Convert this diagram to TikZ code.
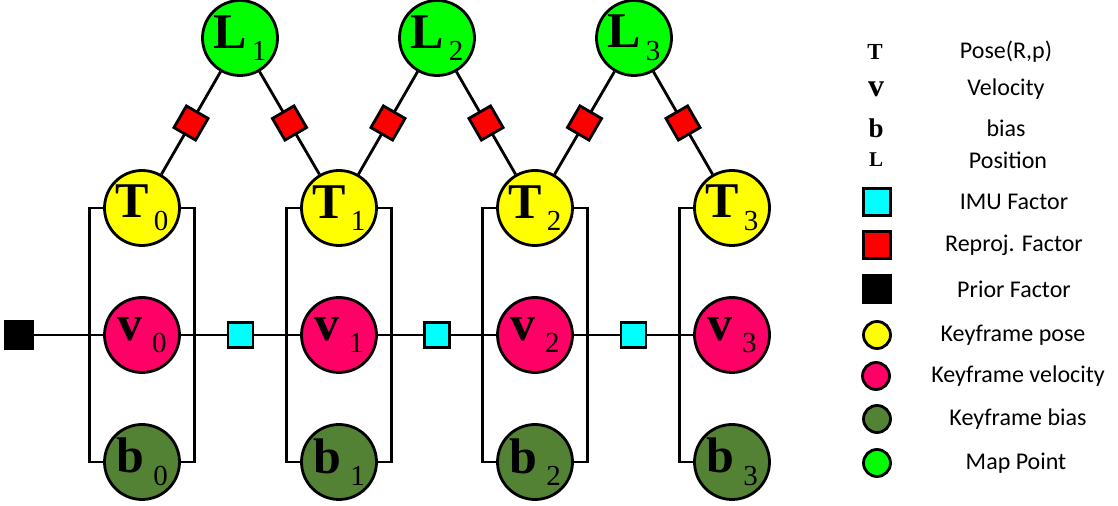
\documentclass[tikz,border=0pt]{standalone}
\usepackage{fontspec}
\setmainfont{Liberation Serif}
\newfontfamily\legendfont{Carlito}
\definecolor{posecol}{HTML}{FFFF00}
\definecolor{velcol}{HTML}{FF0066}
\definecolor{biascol}{HTML}{548235}
\definecolor{mapcol}{HTML}{00FF00}
\definecolor{imucol}{HTML}{00FFFF}
\definecolor{reprojcol}{HTML}{FF0000}
\newcommand{\varlbl}[2]{\textbf{#1}\raisebox{-0.25em}{\fontsize{14.5}{14.5}\selectfont\,#2}}
\begin{document}
\begin{tikzpicture}[x=0.5pt, y=-0.5pt]
    \tikzset{var/.style={circle, draw, line width=1.4pt, minimum size=37.5pt, inner sep=0pt, font=\fontsize{25}{25}\selectfont},
        pose/.style={var, fill=posecol}, vel/.style={var, fill=velcol}, bias/.style={var, fill=biascol}, mappt/.style={var, fill=mapcol},
        fac/.style={rectangle, draw, line width=1.4pt, minimum size=12.5pt, inner sep=0pt},
        imu/.style={fac, fill=imucol}, reproj/.style={fac, fill=reprojcol, sloped}, prior/.style={fac, fill=black, minimum size=14pt},
        link/.style={line width=1.4pt},
        legsym/.style={inner sep=0pt, font=\bfseries},
        legtext/.style={inner sep=0pt, font=\legendfont\fontsize{12}{12}\selectfont},
        legcirc/.style={circle, draw, line width=1.4pt, minimum size=13.5pt, inner sep=0pt},
        legbox/.style={rectangle, draw, line width=1.4pt, minimum size=13.5pt, inner sep=0pt}}
    \useasboundingbox (0,0) rectangle (1118,506);
    % keyframe states
    \node[pose] (T0) at (142,208) {\varlbl{T}{0}};
    \node[pose] (T1) at (339,208) {\varlbl{T}{1}};
    \node[pose] (T2) at (535,208) {\varlbl{T}{2}};
    \node[pose] (T3) at (732,208) {\varlbl{T}{3}};
    \node[vel] (v0) at (142,335) {\varlbl{v}{\,0}};
    \node[vel] (v1) at (339,335) {\varlbl{v}{\,1}};
    \node[vel] (v2) at (535,335) {\varlbl{v}{\,2}};
    \node[vel] (v3) at (732,335) {\varlbl{v}{\,3}};
    \node[bias] (b0) at (142,462) {\varlbl{b}{\,0}};
    \node[bias] (b1) at (339,462) {\varlbl{b}{\,1}};
    \node[bias] (b2) at (535,462) {\varlbl{b}{\,2}};
    \node[bias] (b3) at (732,462) {\varlbl{b}{\,3}};
    % map points
    \node[mappt] (L1) at (240,38) {\varlbl{L}{1}};
    \node[mappt] (L2) at (437,38) {\varlbl{L}{2}};
    \node[mappt] (L3) at (634,38) {\varlbl{L}{3}};
    % brackets
    \draw[link] (T0.west) -- ++(-13.5,0) |- (b0.west);
    \draw[link] (T0.east) -- ++(13.5,0) |- (b0.east);
    \draw[link] (T1.west) -- ++(-13.5,0) |- (b1.west);
    \draw[link] (T1.east) -- ++(13.5,0) |- (b1.east);
    \draw[link] (T2.west) -- ++(-13.5,0) |- (b2.west);
    \draw[link] (T2.east) -- ++(13.5,0) |- (b2.east);
    \draw[link] (T3.west) -- ++(-13.5,0) |- (b3.west);
    % prior and imu factors
    \node[prior] (prior) at (19,335) {};
    \draw[link] (prior) -- (v0);
    \draw[link] (v0) -- node[imu] (imu01) {} (v1);
    \draw[link] (v1) -- node[imu] (imu12) {} (v2);
    \draw[link] (v2) -- node[imu] (imu23) {} (v3);
    % reprojection factors
    \draw[link] (L1) -- node[reproj] (r10) {} (T0);
    \draw[link] (L1) -- node[reproj] (r11) {} (T1);
    \draw[link] (L2) -- node[reproj] (r21) {} (T1);
    \draw[link] (L2) -- node[reproj] (r22) {} (T2);
    \draw[link] (L3) -- node[reproj] (r32) {} (T2);
    \draw[link] (L3) -- node[reproj] (r33) {} (T3);
    % legend
    \node[legsym, font=\fontsize{11.5}{11.5}\selectfont\bfseries] (kT) at (875,52) {T};
    \node[legsym, font=\fontsize{16}{16}\selectfont\bfseries] (kv) at (876,89) {v};
    \node[legsym, font=\fontsize{13.5}{13.5}\selectfont\bfseries] (kb) at (876,128) {b};
    \node[legsym, font=\fontsize{10.5}{10.5}\selectfont\bfseries] (kL) at (876,160) {L};
    \node[legbox, fill=imucol] (kimu) at (877,202) {};
    \node[legbox, fill=reprojcol] (kreproj) at (877,245) {};
    \node[legbox, fill=black] (kprior) at (877,289) {};
    \node[legcirc, fill=posecol] (kpose) at (877,335) {};
    \node[legcirc, fill=velcol] (kvel) at (876,376) {};
    \node[legcirc, fill=biascol] (kbias) at (877,419) {};
    \node[legcirc, fill=mapcol] (kmap) at (877,463) {};
    \node[legtext] (tT) at (1006,52) {Pose(R,p)};
    \node[legtext] (tv) at (1006,89) {Velocity};
    \node[legtext] (tb) at (1006,128) {bias};
    \node[legtext] (tL) at (1008,160) {Position};
    \node[legtext] (timu) at (1014,202) {IMU Factor};
    \node[legtext] (treproj) at (1014,245) {Reproj. Factor};
    \node[legtext] (tprior) at (1014,289) {Prior Factor};
    \node[legtext] (tpose) at (1013,335) {Keyframe pose};
    \node[legtext] (tvel) at (1018,376) {Keyframe velocity};
    \node[legtext] (tbias) at (1018,419) {Keyframe bias};
    \node[legtext] (tmap) at (1016,463) {Map Point};
\end{tikzpicture}
\end{document}
